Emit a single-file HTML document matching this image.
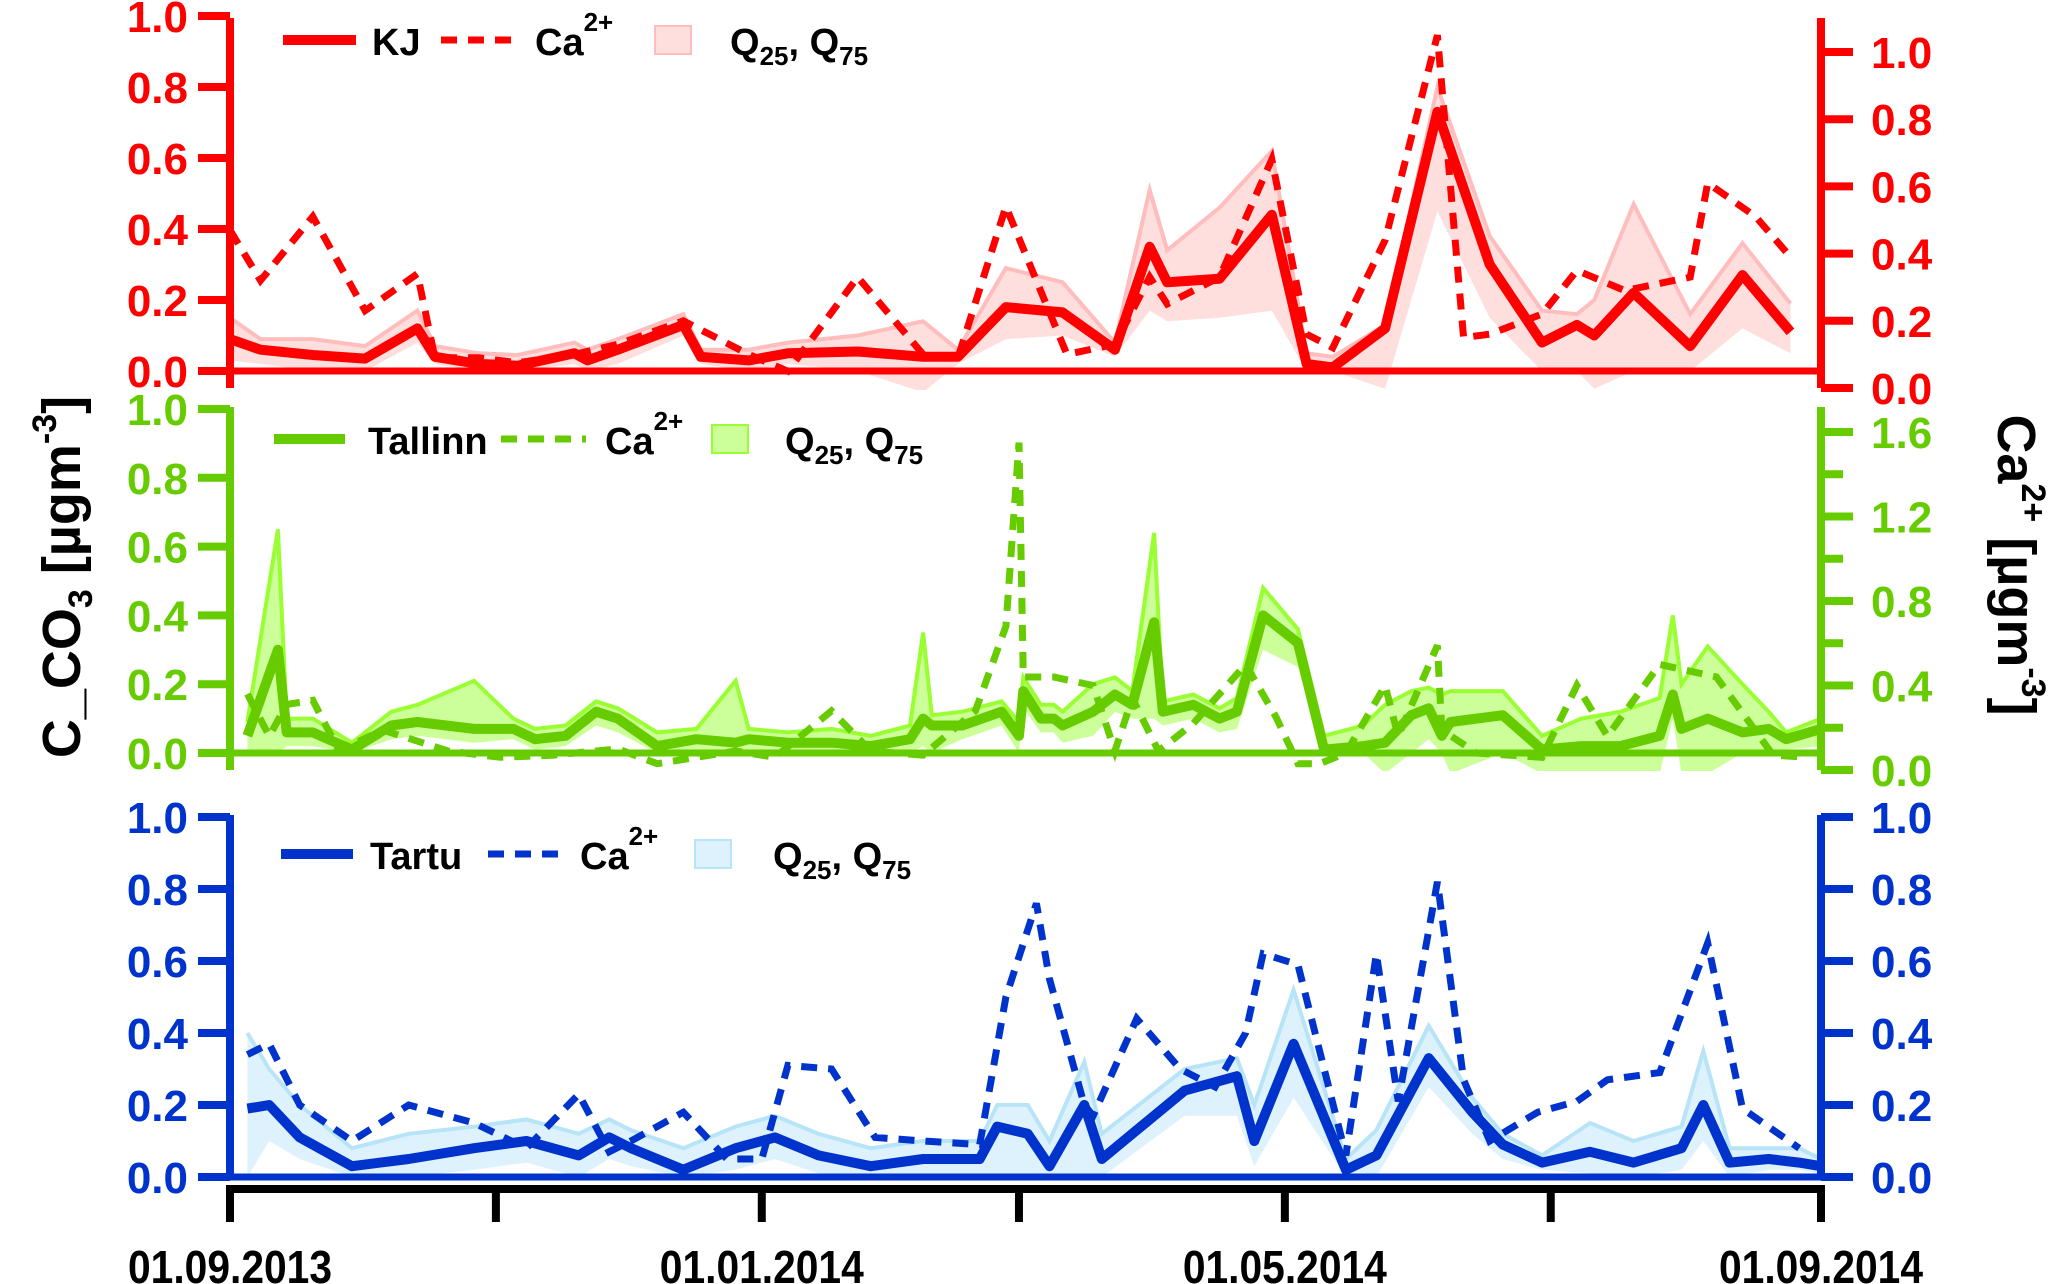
<!DOCTYPE html>
<html><head><meta charset="utf-8"><style>
html,body{margin:0;padding:0;background:#fff;}
svg{display:block;font-family:"Liberation Sans",Arial,sans-serif;font-weight:bold;}
</style></head><body>
<svg id="chart" width="2067" height="1284" viewBox="0 0 2067 1284" xmlns="http://www.w3.org/2000/svg">
<defs>
<clipPath id="c1"><rect x="230" y="0" width="1592" height="390"/></clipPath>
<clipPath id="c2"><rect x="230" y="395" width="1592" height="376"/></clipPath>
<clipPath id="c3"><rect x="230" y="800" width="1592" height="378"/></clipPath>
</defs>
<g id="plots"></g>
<text transform="translate(80,577) rotate(-90)" text-anchor="middle" font-size="54" fill="#000">C_CO<tspan font-size="34" dy="12">3</tspan><tspan dy="-12"> [µgm</tspan><tspan font-size="34" dy="-24">-3</tspan><tspan dy="24">]</tspan></text>
<text transform="translate(1998,565) rotate(90)" text-anchor="middle" font-size="54" fill="#000">Ca<tspan font-size="34" dy="-24">2+</tspan><tspan dy="24"> [µgm</tspan><tspan font-size="34" dy="-24">-3</tspan><tspan dy="24">]</tspan></text>
</svg>
<script>
// ---- data (x in days since 01.09.2013) ----
const kjDays=[0,7,19,31,43,47,57,66,79,82,89,104,108,119,128,144,159,167,178,191,203,211,215,227,239,247,253,265,277,289,301,309,313,322,335,347,358];
const kjMain=[0.09,0.06,0.045,0.035,0.12,0.04,0.02,0.015,0.05,0.03,0.06,0.13,0.04,0.03,0.05,0.055,0.04,0.04,0.18,0.165,0.06,0.35,0.25,0.26,0.44,0.02,0.01,0.12,0.73,0.3,0.08,0.13,0.1,0.22,0.07,0.27,0.11];
const kjQ75=[0.15,0.09,0.09,0.07,0.17,0.07,0.05,0.045,0.08,0.06,0.09,0.16,0.06,0.06,0.08,0.1,0.14,0.06,0.29,0.25,0.08,0.51,0.34,0.46,0.62,0.05,0.04,0.13,0.8,0.38,0.17,0.16,0.2,0.47,0.16,0.36,0.19];
const kjQ25=[0.03,0.02,0.0,0.0,0.08,0.02,0.0,0.0,0.02,0.0,0.02,0.1,0.02,0.0,0.02,0.0,-0.06,0.02,0.09,0.1,0.04,0.17,0.14,0.15,0.17,0.0,0.0,-0.05,0.45,0.15,0.0,0.0,-0.05,0.0,0.0,0.12,0.05];
const kjCaDays=[0,7,19,31,43,47,57,66,79,89,104,119,128,144,159,167,178,192,203,211,215,227,239,247,253,265,277,283,289,301,309,320,335,339,350,358];
const kjCa=[0.47,0.32,0.51,0.23,0.34,0.09,0.09,0.075,0.1,0.13,0.2,0.1,0.05,0.33,0.1,0.09,0.54,0.1,0.13,0.33,0.25,0.33,0.68,0.16,0.12,0.44,1.05,0.15,0.16,0.22,0.35,0.29,0.33,0.61,0.51,0.39];

const tlDays=[4,11,13,19,28,37,43,56,65,70,77,84,89,98,107,116,119,128,138,147,156,159,161,168,177,181,182,186,189,191,198,203,207,212,214,221,227,231,237,245,251,260,265,271,275,278,280,292,301,310,319,328,331,333,339,347,353,357,365];
const tlMain=[0.05,0.3,0.06,0.06,0.01,0.08,0.09,0.07,0.07,0.04,0.05,0.12,0.1,0.02,0.04,0.03,0.04,0.03,0.03,0.02,0.04,0.1,0.08,0.08,0.12,0.05,0.18,0.1,0.1,0.08,0.12,0.17,0.14,0.38,0.12,0.14,0.1,0.12,0.4,0.32,0.01,0.02,0.03,0.11,0.13,0.05,0.09,0.11,0.01,0.02,0.02,0.05,0.17,0.07,0.1,0.06,0.07,0.04,0.07];
const tlQ75=[0.09,0.65,0.1,0.1,0.03,0.12,0.14,0.21,0.1,0.07,0.08,0.15,0.13,0.06,0.07,0.21,0.07,0.06,0.07,0.05,0.08,0.35,0.11,0.12,0.15,0.09,0.22,0.14,0.14,0.12,0.2,0.22,0.18,0.64,0.15,0.17,0.13,0.16,0.48,0.36,0.05,0.08,0.14,0.18,0.19,0.17,0.18,0.18,0.05,0.1,0.12,0.16,0.4,0.2,0.31,0.2,0.12,0.06,0.1];
const tlQ25=[0.0,0.0,0.02,0.02,0.0,0.04,0.05,0.03,0.04,0.01,0.02,0.08,0.06,0.0,0.01,0.0,0.01,0.0,0.0,0.0,0.0,0.02,0.0,0.04,0.08,0.0,0.13,0.06,0.06,0.03,0.05,0.12,0.1,0.1,0.08,0.1,0.06,0.07,0.3,0.25,0.0,0.0,-0.06,0.0,0.04,0.0,-0.06,0.0,-0.06,-0.06,-0.06,-0.06,0.1,-0.06,-0.06,0.0,0.0,0.01,0.02];
const tlCaDays=[4,9,13,19,25,35,50,62,74,89,98,116,125,138,147,159,171,178,181,182,189,198,203,207,213,221,233,240,245,250,256,265,268,277,278,286,301,309,316,328,341,354,362];
const tlCa=[0.36,0.16,0.31,0.33,0.09,0.19,0.09,0.06,0.07,0.1,0.03,0.09,0.06,0.28,0.09,0.07,0.28,0.68,1.55,0.44,0.44,0.4,0.09,0.34,0.09,0.22,0.5,0.25,0.03,0.03,0.08,0.4,0.16,0.59,0.19,0.08,0.06,0.4,0.16,0.5,0.44,0.07,0.06];

const taDays=[4,9,16,28,41,56,68,80,87,92,104,116,125,135,147,159,172,176,183,188,196,200,219,231,235,244,256,263,275,285,292,301,312,322,333,338,344,353,360,365];
const taMain=[0.19,0.2,0.11,0.03,0.05,0.08,0.1,0.06,0.11,0.08,0.02,0.08,0.11,0.06,0.03,0.05,0.05,0.14,0.12,0.03,0.2,0.05,0.24,0.28,0.1,0.37,0.02,0.06,0.33,0.18,0.09,0.04,0.07,0.04,0.08,0.2,0.04,0.05,0.04,0.03];
const taQ75=[0.4,0.3,0.2,0.08,0.12,0.14,0.16,0.12,0.16,0.13,0.08,0.14,0.17,0.12,0.08,0.1,0.1,0.2,0.2,0.1,0.32,0.12,0.3,0.33,0.2,0.52,0.05,0.13,0.42,0.22,0.12,0.06,0.15,0.1,0.14,0.35,0.08,0.08,0.08,0.05];
const taQ25=[0.0,0.1,0.05,0.0,0.0,0.02,0.04,0.0,0.05,0.03,0.0,0.02,0.05,0.01,0.0,0.0,0.0,0.0,0.0,0.0,0.0,0.0,0.17,0.17,0.03,0.22,0.0,0.0,0.25,0.12,0.05,0.02,0.01,0.0,0.02,0.1,0.0,0.02,0.02,0.01];
const taCaDays=[4,9,16,28,41,56,68,80,87,92,104,114,122,128,138,148,159,172,178,185,188,196,198,208,218,226,233,237,245,256,263,268,277,283,289,300,309,316,328,339,347,360];
const taCa=[0.34,0.37,0.2,0.1,0.2,0.15,0.08,0.23,0.07,0.1,0.18,0.05,0.05,0.31,0.3,0.11,0.1,0.09,0.5,0.76,0.55,0.2,0.17,0.44,0.3,0.25,0.4,0.62,0.59,0.06,0.62,0.21,0.82,0.27,0.1,0.18,0.21,0.27,0.29,0.65,0.19,0.08];

const leftTicks=["0.0","0.2","0.4","0.6","0.8","1.0"];
const rightTicksKJ=["0.0","0.2","0.4","0.6","0.8","1.0"];
const rightTicksTL=["0.0","0.4","0.8","1.2","1.6"];
const dateLabels=["01.09.2013","01.01.2014","01.05.2014","01.09.2014"];
const dateLabelDays=[0,122,242,365];
const monthTickDays=[0,61,122,181,242,303,365];

// ---- layout ----
const NS="http://www.w3.org/2000/svg";
const X0=230,X1=1821;
const xs=d=>X0+d*(X1-X0)/365;
const root=document.getElementById('plots');
function mk(tag,attrs,parent){const e=document.createElementNS(NS,tag);for(const k in attrs)e.setAttribute(k,attrs[k]);(parent||root).appendChild(e);return e;}
function lin(v0,p0,v1,p1){return v=>p0+(v-v0)*(p1-p0)/(v1-v0);}
function pts(days,vals,sy){return days.map((d,i)=>xs(d).toFixed(1)+','+sy(vals[i]).toFixed(1)).join(' ');}

const panels=[
 {key:'kj',name:'KJ',col:'#ff0000',fill:'#ffdede',edge:'#ffbdbd',clip:'c1',
  ly:lin(0,371,1,16),ry:lin(0,388,1,52),lTop:18,lBot:388,rTop:18,rBot:388,
  days:kjDays,main:kjMain,q25:kjQ25,q75:kjQ75,caDays:kjCaDays,ca:kjCa,
  rTicks:rightTicksKJ,rVals:[0,0.2,0.4,0.6,0.8,1.0],rMinor:[],
  leg:{y:40,l1:283,l2:356,t1:372,d1:441,d2:520,t2:535,p:655,t3:730}},
 {key:'tallinn',name:'Tallinn',col:'#66cc00',fill:'#ccff99',edge:'#99ff33',clip:'c2',
  ly:lin(0,753,1,409),ry:lin(0,770,1.6,432),lTop:407,lBot:770,rTop:407,rBot:770,
  days:tlDays,main:tlMain,q25:tlQ25,q75:tlQ75,caDays:tlCaDays,ca:tlCa,
  rTicks:rightTicksTL,rVals:[0,0.4,0.8,1.2,1.6],rMinor:[0.2,0.6,1.0,1.4],
  leg:{y:439,l1:274,l2:345,t1:368,d1:501,d2:586,t2:605,p:712,t3:785}},
 {key:'tartu',name:'Tartu',col:'#0033cc',fill:'#ddf2fc',edge:'#b8e4f8',clip:'c3',
  ly:lin(0,1177,1,817),ry:lin(0,1177,1,817),lTop:815,lBot:1177,rTop:815,rBot:1177,
  days:taDays,main:taMain,q25:taQ25,q75:taQ75,caDays:taCaDays,ca:taCa,
  rTicks:leftTicks,rVals:[0,0.2,0.4,0.6,0.8,1.0],rMinor:[],
  leg:{y:854,l1:281,l2:353,t1:370,d1:488,d2:567,t2:580,p:695,t3:773}}
];

panels.forEach(p=>{
  const g=mk('g',{});
  const gc=mk('g',{'clip-path':'url(#'+p.clip+')'},g);
  const up=pts(p.days,p.q75,p.ly), lo=pts(p.days.slice().reverse(),p.q25.slice().reverse(),p.ly);
  const band=mk('polygon',{points:up+' '+lo,fill:p.fill,stroke:'none'},gc);
  
  
  const e1=mk('polyline',{points:up,fill:'none',stroke:p.edge,'stroke-width':4},gc);
  
  
  const zl=mk('line',{x1:X0,x2:X1,y1:p.ly(0),y2:p.ly(0),stroke:p.col,'stroke-width':7},g);
  
  
  const ca=mk('polyline',{points:pts(p.caDays,p.ca,p.ry),fill:'none',stroke:p.col,'stroke-width':7,'stroke-dasharray':'16 11'},gc);
  
  
  const m=mk('polyline',{points:pts(p.days,p.main,p.ly),fill:'none',stroke:p.col,'stroke-width':10,'stroke-linejoin':'round'},gc);
  
  
  const la=mk('line',{x1:X0,x2:X0,y1:p.lTop,y2:p.lBot,stroke:p.col,'stroke-width':8},g);
  
  
  leftTicks.forEach((t,i)=>{
    const y=p.ly(i*0.2);
    mk('line',{x1:X0-32,x2:X0,y1:y,y2:y,stroke:p.col,'stroke-width':8},g);
    const tx=mk('text',{x:X0-42,y:y+16,'text-anchor':'end','font-size':44,fill:p.col},g);
    
    
    tx.textContent=t;
  });
  const ra=mk('line',{x1:X1,x2:X1,y1:p.rTop,y2:p.rBot,stroke:p.col,'stroke-width':8},g);
  
  
  p.rTicks.forEach((t,i)=>{
    const y=p.ry(p.rVals[i]);
    mk('line',{x1:X1,x2:X1+32,y1:y,y2:y,stroke:p.col,'stroke-width':8},g);
    const tx=mk('text',{x:X1+50,y:y+16,'font-size':44,fill:p.col},g);
    
    
    tx.textContent=t;
  });
  p.rMinor.forEach(v=>{const y=p.ry(v);mk('line',{x1:X1,x2:X1+22,y1:y,y2:y,stroke:p.col,'stroke-width':8},g);});
  const L=p.leg;
  const lg=mk('g',{},g);
  
  
  mk('line',{x1:L.l1,x2:L.l2,y1:L.y,y2:L.y,stroke:p.col,'stroke-width':10},lg);
  const t1=mk('text',{x:L.t1,y:L.y+15,'font-size':38,fill:'#000'},lg);t1.textContent=p.name;
  mk('line',{x1:L.d1,x2:L.d2,y1:L.y,y2:L.y,stroke:p.col,'stroke-width':7,'stroke-dasharray':'16 11'},lg);
  const t2=mk('text',{x:L.t2,y:L.y+15,'font-size':38,fill:'#000'},lg);
  t2.innerHTML='Ca<tspan font-size="26" dy="-24">2+</tspan>';
  mk('rect',{x:L.p,y:L.y-14,width:36,height:28,fill:p.fill,stroke:p.edge,'stroke-width':2},lg);
  const t3=mk('text',{x:L.t3,y:L.y+15,'font-size':38,fill:'#000'},lg);
  t3.innerHTML='Q<tspan font-size="26" dy="10">25</tspan><tspan dy="-10">, Q</tspan><tspan font-size="26" dy="10">75</tspan>';
});

const xa=mk('line',{x1:X0-4,x2:X1+4,y1:1189,y2:1189,stroke:'#000','stroke-width':8});


monthTickDays.forEach(d=>{
  const t=mk('line',{x1:xs(d),x2:xs(d),y1:1189,y2:1222,stroke:'#000','stroke-width':8});
  
  
});
dateLabels.forEach((s,i)=>{
  const t=mk('text',{x:xs(dateLabelDays[i]),y:1283,'text-anchor':'middle','font-size':46,fill:'#000',textLength:204,lengthAdjust:'spacingAndGlyphs'});
  
  
  t.textContent=s;
});
</script>
</body></html>
